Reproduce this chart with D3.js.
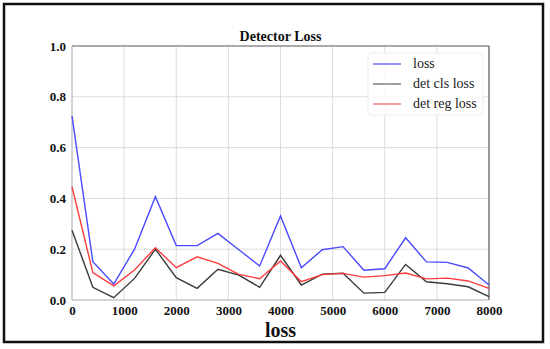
<!DOCTYPE html>
<html>
<head>
<meta charset="utf-8">
<script src="https://cdn.jsdelivr.net/npm/d3@7"></script>
<style>
  body { margin: 0; background: #fff; }
  text { font-family: "Liberation Serif", "Times New Roman", serif; }
</style>
</head>
<body>
<div id="chart"></div>
<script>
var steps = [0, 400, 800, 1200, 1600, 2000, 2400, 2800, 3200, 3600, 4000,
             4400, 4800, 5200, 5600, 6000, 6400, 6800, 7200, 7600, 8000];
var lossVals = [0.725, 0.151, 0.063, 0.200, 0.407, 0.214, 0.214, 0.262, 0.198, 0.134, 0.331,
                0.127, 0.198, 0.210, 0.117, 0.123, 0.245, 0.150, 0.148, 0.126, 0.059];
var clsVals = [0.275, 0.050, 0.009, 0.085, 0.200, 0.088, 0.046, 0.121, 0.098, 0.050, 0.176,
               0.059, 0.102, 0.105, 0.027, 0.030, 0.140, 0.072, 0.064, 0.052, 0.013];
var regVals = [0.446, 0.108, 0.056, 0.118, 0.206, 0.127, 0.170, 0.144, 0.101, 0.084, 0.154,
               0.072, 0.100, 0.105, 0.090, 0.096, 0.106, 0.083, 0.086, 0.075, 0.046];
var seriesNames = ["loss", "det cls loss", "det reg loss"];
var seriesColors = ["#4a4aff", "#3a3a3a", "#ff3c3c"];
var legendColors = ["#7070ff", "#808080", "#ff7a7a"];
var xTicks = [0, 1000, 2000, 3000, 4000, 5000, 6000, 7000, 8000];
var yTicks = [0.0, 0.2, 0.4, 0.6, 0.8, 1.0];

var W = 550, H = 349;
var margin = {top: 46, right: 61, bottom: 49, left: 72},
    width = W - margin.left - margin.right,
    height = H - margin.top - margin.bottom;

var svg = d3.select("#chart").append("svg")
    .attr("width", W)
    .attr("height", H);

// outer frame
svg.append("rect")
    .attr("x", 4).attr("y", 4)
    .attr("width", 539).attr("height", 338)
    .attr("fill", "none")
    .attr("stroke", "#111")
    .attr("stroke-width", 2.5);

var g = svg.append("g")
    .attr("transform", "translate(" + margin.left + "," + margin.top + ")");

var x = d3.scaleLinear().domain([0, 8000]).range([0, width]);
var y = d3.scaleLinear().domain([0, 1]).range([height, 0]);

// grid
g.append("g").selectAll("line").data(xTicks)
    .enter().append("line")
    .attr("x1", d => x(d)).attr("x2", d => x(d))
    .attr("y1", 0).attr("y2", height)
    .attr("stroke", "#dcdcdc").attr("stroke-width", 1);
g.append("g").selectAll("line").data(yTicks)
    .enter().append("line")
    .attr("x1", 0).attr("x2", width)
    .attr("y1", d => y(d)).attr("y2", d => y(d))
    .attr("stroke", "#dcdcdc").attr("stroke-width", 1);

// spines
g.append("line").attr("x1", 0).attr("x2", width).attr("y1", 0).attr("y2", 0)
    .attr("stroke", "#666");
g.append("line").attr("x1", width).attr("x2", width).attr("y1", 0).attr("y2", height)
    .attr("stroke", "#444");
g.append("line").attr("x1", 0).attr("x2", 0).attr("y1", 0).attr("y2", height)
    .attr("stroke", "#bbb");
g.append("line").attr("x1", 0).attr("x2", width).attr("y1", height).attr("y2", height)
    .attr("stroke", "#bbb");

// axes
var xAxis = d3.axisBottom(x).tickValues(xTicks).tickSize(0).tickPadding(5)
    .tickFormat(d3.format("d"));
var yAxis = d3.axisLeft(y).tickValues(yTicks).tickSize(0).tickPadding(6)
    .tickFormat(d3.format(".1f"));

var gx = g.append("g")
    .attr("transform", "translate(0," + height + ")")
    .call(xAxis);
var gy = g.append("g").call(yAxis);
[gx, gy].forEach(function(a) {
    a.select(".domain").remove();
    a.selectAll("text")
        .attr("fill", "#111")
        .style("font-family", "'Liberation Serif', serif")
        .style("font-weight", "bold")
        .style("font-size", "13px");
});
gx.selectAll("text").attr("dy", "0.75em");

// lines
var allSeries = [lossVals, clsVals, regVals];
var line = d3.line()
    .x((d, i) => x(steps[i]))
    .y(d => y(d));

allSeries.forEach(function(vals, k) {
    g.append("path")
        .datum(vals)
        .attr("fill", "none")
        .attr("stroke", seriesColors[k])
        .attr("stroke-width", 1.4)
        .attr("stroke-linejoin", "miter")
        .attr("d", line);
});

// title
g.append("text")
    .attr("x", width / 2)
    .attr("y", -5)
    .style("text-anchor", "middle")
    .style("font-weight", "bold")
    .style("font-size", "14px")
    .attr("fill", "#111")
    .text("Detector Loss");

// X Axis Label
g.append("text")
    .attr("x", width / 2)
    .attr("y", height + 37)
    .style("text-anchor", "middle")
    .style("font-weight", "bold")
    .style("font-size", "20px")
    .attr("fill", "#111")
    .text("loss");

// legend
var legend = g.append("g")
    .attr("transform", "translate(" + (368 - margin.left) + "," + (53 - margin.top) + ")");
legend.append("rect")
    .attr("width", 115).attr("height", 62)
    .attr("rx", 3)
    .attr("fill", "#fff")
    .attr("fill-opacity", 0.85)
    .attr("stroke", "#eee");
seriesNames.forEach(function(name, k) {
    var yy = 11 + k * 20;
    legend.append("line")
        .attr("x1", 5).attr("x2", 33)
        .attr("y1", yy).attr("y2", yy)
        .attr("stroke", legendColors[k])
        .attr("stroke-width", 1.5);
    legend.append("text")
        .attr("x", 45).attr("y", yy + 4)
        .style("font-size", "14px")
        .attr("fill", "#222")
        .text(name);
});
</script>
</body>
</html>
